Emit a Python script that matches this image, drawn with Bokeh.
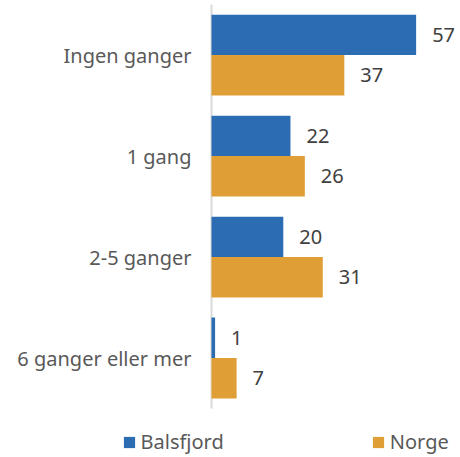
from bokeh.plotting import figure
from bokeh.models import Range1d, ColumnDataSource, Legend, LegendItem
from bokeh.core.properties import value
from bokeh.embed import file_html
from bokeh.resources import INLINE

categories = ["Ingen ganger", "1 gang", "2-5 ganger", "6 ganger eller mer"]
balsfjord = [57, 22, 20, 1]
norge = [37, 26, 31, 7]
series_names = ["Balsfjord", "Norge"]

BLUE = "#2b6cb3"
ORANGE = "#e09f36"
FONT = "Noto Sans"
FS = "20px"

n = len(categories)
pos = [n - 1 - i for i in range(n)]          # top category highest
src = ColumnDataSource(dict(
    cat=categories,
    y=pos,
    yb=[v + 0.2 for v in pos],
    yn=[v - 0.2 for v in pos],
    b=balsfjord,
    n=norge,
    bl=[str(v) for v in balsfjord],
    nl=[str(v) for v in norge],
    zero=[0] * n,
))
axis_src = ColumnDataSource(dict(x=[0], y0=[-0.5], y1=[n - 0.5]))

p = figure(width=460, height=457,
           x_range=Range1d(-58.77, 69.36), y_range=Range1d(-0.985, 3.54),
           output_backend="svg", toolbar_location=None,
           min_border_left=0, min_border_right=0, min_border_top=0,
           min_border_bottom=0)
p.outline_line_color = None
p.grid.visible = False
p.axis.visible = False

# axis line
p.segment(x0="x", x1="x", y0="y0", y1="y1", source=axis_src,
          line_color="#d9d9d9", line_width=2)

rb = p.hbar(y="yb", right="b", left="zero", height=0.4,
            source=src, fill_color=BLUE, line_color=None)
rn = p.hbar(y="yn", right="n", left="zero", height=0.4,
            source=src, fill_color=ORANGE, line_color=None)

# category labels
p.text(x="zero", y="y", text="cat", source=src, x_offset=-20,
       text_baseline="middle", text_align="right",
       text_font=value(FONT), text_font_size=FS, text_color="#595959")

# value labels
for col, lab, yc in (("b", "bl", "yb"), ("n", "nl", "yn")):
    p.text(x=col, y=yc, text=lab, source=src,
           x_offset=16, text_baseline="middle", text_align="left",
           text_font=value(FONT), text_font_size=FS, text_color="#404040")

legend = Legend(items=[LegendItem(label=series_names[0], renderers=[rb]),
                       LegendItem(label=series_names[1], renderers=[rn])],
                orientation="horizontal", location=(121.5, 2),
                glyph_width=14, glyph_height=14, label_standoff=5, spacing=147,
                label_text_font=FONT, label_text_font_size=FS,
                label_text_color="#595959", border_line_color=None,
                background_fill_alpha=0, padding=0, margin=0)
p.add_layout(legend, "center")

open("out.html", "w").write(file_html(p, INLINE))
